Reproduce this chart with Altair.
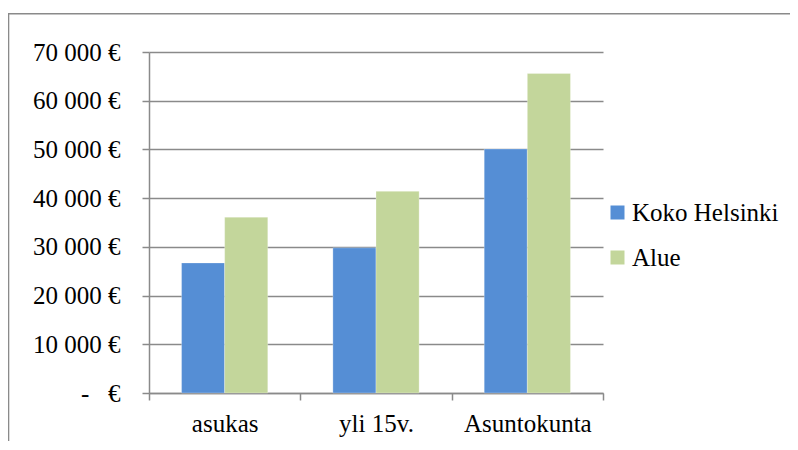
import altair as alt
import pandas as pd

categories = ["asukas", "yli 15v.", "Asuntokunta"]
series = ["Koko Helsinki", "Alue"]
koko_helsinki = [26700, 29800, 50100]
alue = [36100, 41400, 65600]
y_ticks = [0, 10000, 20000, 30000, 40000, 50000, 60000, 70000]
colors = ["#558ED5", "#C3D69B"]

rows = []
for i, c in enumerate(categories):
    rows.append({"cat": c, "series": series[0], "value": koko_helsinki[i]})
    rows.append({"cat": c, "series": series[1], "value": alue[i]})
df = pd.DataFrame(rows)

W, H = 454, 341
PL, PT, PR, PB = 141, 44, 187, 48
GRAY = "#8a8a8a"
FONT = "Liberation Serif"
NB = "\u00a0"

label_expr = (
    "datum.value == 0 ? '-" + NB * 3 + "€' : "
    "replace(format(datum.value, ','), ',', ' ') + ' €'"
)

frame = alt.Chart(pd.DataFrame({"f": [0]})).mark_rect(
    fillOpacity=0, stroke=GRAY, strokeWidth=1.6
).encode(
    x=alt.value(-140.5), x2=alt.value(700), y=alt.value(-38.3), y2=alt.value(520)
)

bars = alt.Chart(df).mark_bar(stroke="#ffffff", strokeOpacity=0.35, strokeWidth=0.8).encode(
    x=alt.X(
        "cat:N",
        sort=categories,
        scale=alt.Scale(paddingInner=0, paddingOuter=0),
        axis=alt.Axis(
            title=None, labelAngle=0, tickBand="extent", tickSize=7,
            labelPadding=11, grid=False,
        ),
    ),
    xOffset=alt.XOffset(
        "series:N", sort=series,
        scale=alt.Scale(domain=series, paddingOuter=0.755, paddingInner=0),
    ),
    y=alt.Y(
        "value:Q",
        scale=alt.Scale(domain=[0, 70000], nice=False),
        axis=alt.Axis(
            title=None, values=y_ticks, labelExpr=label_expr, grid=True,
            tickSize=7, labelPadding=22,
        ),
    ),
    color=alt.Color(
        "series:N",
        sort=series,
        scale=alt.Scale(domain=series, range=colors),
        legend=alt.Legend(
            title=None, orient="none", legendX=456, legendY=148,
            symbolType="square", symbolSize=196, symbolStrokeWidth=0,
            symbolOpacity=1, labelFontSize=25, labelFont=FONT,
            labelColor="black", rowPadding=19, labelOffset=2,
        ),
    ),
)

chart = alt.layer(frame, bars).properties(
    width=W,
    height=H,
    padding={"left": PL, "top": PT, "right": PR, "bottom": PB},
    autosize=alt.AutoSizeParams(type="none"),
    background="white",
).configure(font=FONT).configure_view(strokeWidth=0).configure_axis(
    labelFont=FONT, labelFontSize=25, labelColor="black",
    domainColor=GRAY, tickColor=GRAY, gridColor=GRAY,
    domainWidth=1.5, tickWidth=1.5, gridWidth=1.5,
).configure_legend(
    labelFont=FONT, labelFontSize=25, labelColor="black",
)

chart.save("out.html", embed_options={"renderer": "svg", "actions": False})
